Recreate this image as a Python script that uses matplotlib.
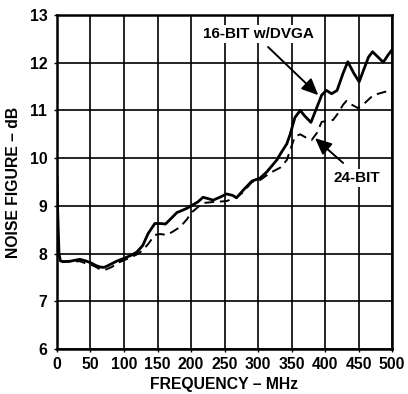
import numpy as np
import matplotlib
matplotlib.use("Agg")
import matplotlib.pyplot as plt

plt.rcParams["font.family"] = ["Liberation Sans", "DejaVu Sans"]
plt.rcParams["font.weight"] = "bold"

# 16-BIT w/DVGA (solid)
freq_16 = [0, 1, 3, 5, 9, 20, 34, 42, 50, 58, 64, 70, 75, 82, 89, 100, 110, 119,
           128, 136, 146, 154, 162, 172, 179, 186, 194, 200, 210, 218, 226, 233,
           243, 253, 262, 268, 278, 291, 303, 313, 328, 333, 343, 348, 355, 363,
           370, 379, 388, 395, 402, 410, 418, 427, 434, 443, 451, 459, 465, 471,
           479, 487, 494, 500]
nf_16 = [9.6, 8.9, 8.0, 7.85, 7.83, 7.84, 7.88, 7.85, 7.81, 7.75, 7.72, 7.71,
         7.74, 7.79, 7.84, 7.9, 7.96, 8.03, 8.17, 8.42, 8.63, 8.63, 8.62, 8.76,
         8.86, 8.9, 8.95, 9.0, 9.08, 9.18, 9.15, 9.12, 9.18, 9.25, 9.22, 9.17,
         9.33, 9.52, 9.58, 9.71, 9.96, 10.08, 10.3, 10.5, 10.85, 11.0, 10.88,
         10.75, 11.07, 11.32, 11.42, 11.35, 11.42, 11.78, 12.02, 11.78, 11.6,
         11.9, 12.12, 12.23, 12.12, 12.01, 12.16, 12.27]

# 24-BIT (dashed)
freq_24 = [5, 20, 34, 42, 50, 58, 64, 72, 82, 90, 100, 110, 119, 128, 136, 146,
           154, 164, 174, 184, 194, 200, 210, 218, 233, 253, 268, 278, 291, 303,
           318, 333, 343, 348, 355, 363, 373, 380, 388, 395, 403, 412, 420, 427,
           432, 440, 449, 459, 472, 482, 497, 500]
nf_24 = [7.84, 7.83, 7.84, 7.8, 7.77, 7.72, 7.67, 7.66, 7.72, 7.8, 7.86, 7.92,
         7.98, 8.07, 8.2, 8.39, 8.41, 8.39, 8.47, 8.56, 8.72, 8.85, 8.97, 9.06,
         9.08, 9.1, 9.18, 9.29, 9.5, 9.54, 9.69, 9.8, 9.96, 10.17, 10.45, 10.5,
         10.42, 10.38, 10.53, 10.76, 10.78, 10.8, 10.95, 11.12, 11.2, 11.12,
         11.05, 11.15, 11.32, 11.36, 11.42, 11.43]

x_ticks = np.arange(0, 501, 50)
y_ticks = np.arange(6, 14, 1)

fig = plt.figure(figsize=(4.08, 3.94), dpi=100)
ax = fig.add_axes([0.1397, 0.1142, 0.8211, 0.8477])

ax.plot(freq_16, nf_16, color="black", lw=2.0, solid_joinstyle="round", zorder=3)
ax.plot(freq_24, nf_24, color="black", lw=1.4, dashes=(5, 3), zorder=3)

ax.set_xlim(0, 500)
ax.set_ylim(6, 13)
ax.set_xticks(x_ticks)
ax.set_yticks(y_ticks)
ax.grid(True, color="black", lw=1.2)
ax.set_axisbelow(True)
for s in ax.spines.values():
    s.set_linewidth(1.8)
ax.tick_params(axis="both", length=2, width=1, labelsize=11.3)
ax.tick_params(axis="x", pad=4)
ax.tick_params(axis="y", pad=5)
for lab in ax.get_xticklabels() + ax.get_yticklabels():
    lab.set_fontweight("bold")

ax.set_xlabel("FREQUENCY – MHz", fontsize=11.3, fontweight="bold", labelpad=3)
ax.set_ylabel("NOISE FIGURE – dB", fontsize=11.3, fontweight="bold", labelpad=6)

box = dict(boxstyle="square,pad=0.15", fc="white", ec="none")
arrow = dict(arrowstyle="-|>,head_length=1.0,head_width=0.45", color="black",
             lw=1.4, shrinkA=0, shrinkB=0)
ax.annotate("16-BIT w/DVGA", xy=(390, 11.32), xytext=(300, 12.6),
            ha="center", va="center", fontsize=11, fontweight="bold",
            bbox=box, zorder=5)
ax.annotate("", xy=(390, 11.32), xytext=(315, 12.33), arrowprops=arrow, zorder=5)
ax.annotate("24-BIT", xy=(385, 10.42), xytext=(448, 9.58),
            ha="center", va="center", fontsize=11, fontweight="bold",
            bbox=box, zorder=5)
ax.annotate("", xy=(385, 10.42), xytext=(427, 9.9), arrowprops=arrow, zorder=5)

fig.savefig("out.png", dpi=100)
